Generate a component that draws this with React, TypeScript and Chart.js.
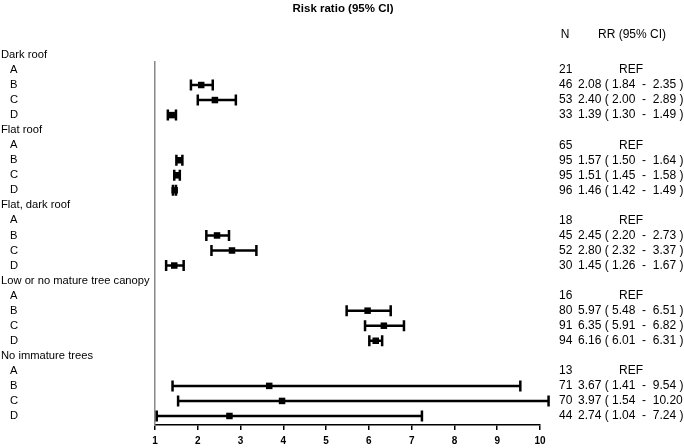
import React, { useEffect, useRef } from 'react';
import { Chart, registerables } from 'chart.js';
Chart.register(...registerables);

const groups = ['Dark roof', 'Flat roof', 'Flat, dark roof', 'Low or no mature tree canopy', 'No immature trees'];
const levels = ['A', 'B', 'C', 'D'];
const nValues = [[21, 46, 53, 33], [65, 95, 95, 96], [18, 45, 52, 30], [16, 80, 91, 94], [13, 71, 70, 44]];
const rrValues = [[null, 2.08, 2.40, 1.39], [null, 1.57, 1.51, 1.46], [null, 2.45, 2.80, 1.45], [null, 5.97, 6.35, 6.16], [null, 3.67, 3.97, 2.74]];
const lowerValues = [[null, 1.84, 2.00, 1.30], [null, 1.50, 1.45, 1.42], [null, 2.20, 2.32, 1.26], [null, 5.48, 5.91, 6.01], [null, 1.41, 1.54, 1.04]];
const upperValues = [[null, 2.35, 2.89, 1.49], [null, 1.64, 1.58, 1.49], [null, 2.73, 3.37, 1.67], [null, 6.51, 6.82, 6.31], [null, 9.54, 10.20, 7.24]];
const xMin = 1;
const xMax = 10;

const FONT = '"Liberation Sans Narrow", "Arial Narrow", "Liberation Sans", Arial, sans-serif';

type Row = { label: string; header: boolean; n?: number; rr?: number | null; lo?: number | null; hi?: number | null };
const rows: Row[] = [];
groups.forEach((g, gi) => {
  rows.push({ label: g, header: true });
  levels.forEach((l, li) => {
    rows.push({ label: l, header: false, n: nValues[gi][li], rr: rrValues[gi][li], lo: lowerValues[gi][li], hi: upperValues[gi][li] });
  });
});

const fmt = (v: number) => v.toFixed(2);

const forestPlugin = {
  id: 'forest',
  beforeDatasetsDraw(chart: any) {
    const { ctx, scales } = chart;
    const xs = scales.x, ys = scales.y;
    ctx.save();
    ctx.strokeStyle = '#000';
    ctx.lineWidth = 2.5;
    rows.forEach((r, i) => {
      if (r.rr == null || r.lo == null || r.hi == null) return;
      const y = ys.getPixelForValue(i);
      const x1 = xs.getPixelForValue(r.lo);
      const x2 = xs.getPixelForValue(r.hi);
      ctx.beginPath();
      ctx.moveTo(x1, y); ctx.lineTo(x2, y);
      ctx.moveTo(x1, y - 5.5); ctx.lineTo(x1, y + 5.5);
      ctx.moveTo(x2, y - 5.5); ctx.lineTo(x2, y + 5.5);
      ctx.stroke();
    });
    ctx.restore();
  },
  afterDraw(chart: any) {
    const { ctx, scales } = chart;
    const ys = scales.y;
    ctx.save();
    ctx.fillStyle = '#000';
    ctx.textBaseline = 'middle';
    ctx.font = `bold 11.5px ${FONT}`;
    ctx.textAlign = 'center';
    ctx.fillText('Risk ratio (95% CI)', 343, 9);
    ctx.font = `12px ${FONT}`;
    ctx.fillText('N', 565, 35);
    ctx.fillText('RR (95% CI)', 632, 35);
    rows.forEach((r, i) => {
      const y = ys.getPixelForValue(i);
      ctx.textAlign = 'left';
      ctx.font = `11.2px ${FONT}`;
      ctx.fillText(r.label, r.header ? 1 : 10, y, 150);
      ctx.font = `12px ${FONT}`;
      if (!r.header) {
        ctx.fillText(String(r.n), 559, y);
        if (r.rr == null) {
          ctx.textAlign = 'center';
          ctx.fillText('REF', 631, y);
        } else {
          ctx.fillText(`${fmt(r.rr)} ( ${fmt(r.lo as number)}  -  ${fmt(r.hi as number)} )`, 578, y);
        }
      }
    });
    ctx.restore();
  },
};

export default function App() {
  const ref = useRef<HTMLCanvasElement>(null);
  useEffect(() => {
    document.body.style.margin = '0';
    const points = rows
      .map((r, i) => (r.rr != null ? { x: r.rr, y: i } : null))
      .filter((p) => p !== null) as { x: number; y: number }[];
    const chart = new Chart(ref.current as HTMLCanvasElement, {
      type: 'scatter',
      data: {
        datasets: [
          {
            data: points,
            pointStyle: 'rect',
            pointRadius: 4.6,
            backgroundColor: '#000',
            borderColor: '#000',
            borderWidth: 0,
            clip: false as any,
          },
        ],
      },
      options: {
        animation: false,
        responsive: false,
        maintainAspectRatio: false,
        layout: { padding: { left: 155, right: 144, top: 62, bottom: 0 } },
        plugins: { legend: { display: false }, tooltip: { enabled: false }, title: { display: false } },
        scales: {
          x: {
            type: 'linear',
            min: xMin,
            max: xMax,
            afterFit: (s: any) => { s.height = 23; },
            ticks: { stepSize: 1, color: '#000', font: { family: FONT, size: 10, weight: 'bold' }, padding: 5 },
            grid: { drawOnChartArea: false, drawTicks: true, tickLength: 5, color: '#000', lineWidth: 1.5 },
            border: { display: true, color: '#000', width: 1.5 },
          },
          y: {
            type: 'linear',
            reverse: true,
            min: 0.47,
            max: 24.6,
            afterFit: (s: any) => { s.width = 0; },
            ticks: { display: false },
            grid: { display: false, drawTicks: false },
            border: { display: true, color: '#888', width: 1.5 },
          },
        },
      },
      plugins: [forestPlugin],
    });
    return () => chart.destroy();
  }, []);
  return <canvas ref={ref} width={684} height={448} style={{ display: 'block' }} />;
}
